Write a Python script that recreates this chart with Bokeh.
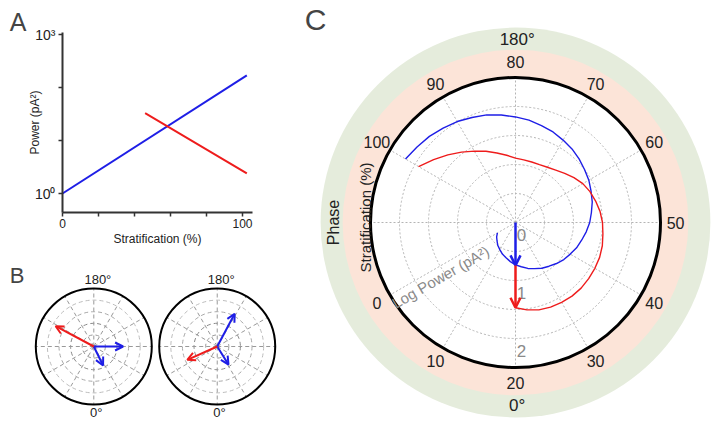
import numpy as np
from bokeh.plotting import figure
from bokeh.layouts import row, column
from bokeh.models import Range1d, FixedTicker, Label, Arrow, OpenHead
from bokeh.embed import file_html
from bokeh.resources import INLINE
from bokeh.core.properties import value

FONT = "Liberation Sans"
BLUE = "#1e1ee6"
RED = "#ee1c1c"

# ---------------- data ----------------
# Panel A: power vs stratification
a_blue_strat = [0, 102.4]
a_blue_power = [1.0, 170.0]
a_red_strat = [45.9, 102.4]
a_red_power = [33.0, 2.4]
a_xticks = [0, 20, 40, 60, 80, 100]
a_xlabels = ["0", "", "", "", "", "100"]
a_yticks = [1, 10, 100, 1000]
a_ylabels = ["10\u2070", "", "", "10\u00b3"]

# Panel B: phasor arrows (phase in degrees, 0 deg at bottom; relative magnitude)
b_left_phase = [90, 26, 242]
b_left_mag = [0.505, 0.365, 0.745]
b_left_color = [BLUE, BLUE, RED]
b_right_phase = [152, 32, 294]
b_right_mag = [0.64, 0.367, 0.565]
b_right_color = [BLUE, BLUE, RED]

# Panel C: log power vs stratification (polar)
c_blue_strat = [0, 2.5, 5, 7.5, 10, 12.5, 15, 17.5, 20, 22.5, 25, 27.5, 30, 32.5, 35, 37.5,
                40, 42.5, 45, 47.5, 50, 52.5, 55, 57.5, 60, 62.5, 65, 67.5, 70, 72.5, 75,
                77.5, 80, 82.5, 85, 87.5, 90, 92.5, 95, 97.5, 100]
c_blue_logp = [0.36, 0.41, 0.45, 0.50, 0.54, 0.59, 0.63, 0.68, 0.73, 0.77, 0.82, 0.86, 0.91,
               0.95, 1.00, 1.05, 1.09, 1.14, 1.18, 1.23, 1.28, 1.32, 1.37, 1.41, 1.46, 1.50,
               1.55, 1.60, 1.64, 1.69, 1.73, 1.78, 1.82, 1.87, 1.92, 1.96, 2.01, 2.05, 2.10,
               2.14, 2.19]
c_red_strat = [20, 22.5, 25, 27.5, 30, 32.5, 35, 37.5, 40, 42.5, 45, 47.5, 50, 52.5, 55, 57.5,
               60, 62.5, 65, 67.5, 70, 72.5, 75, 77.5, 80, 82.5, 85, 87.5, 90, 92.5, 95, 97.5, 100]
c_red_logp = [1.47, 1.52, 1.56, 1.58, 1.59, 1.60, 1.60, 1.59, 1.58, 1.57, 1.55, 1.52, 1.50,
              1.47, 1.43, 1.39, 1.34, 1.27, 1.20, 1.14, 1.10, 1.08, 1.08, 1.09, 1.11, 1.17,
              1.24, 1.33, 1.42, 1.53, 1.65, 1.78, 1.93]
c_arrow_strat = 20
c_blue_arrow = [0.0, 0.74]
c_red_arrow = [0.74, 1.47]
c_strat_ticks = [0, 10, 20, 30, 40, 50, 60, 70, 80, 90, 100]
c_logp_ticks = [0, 1, 2]
c_rmax = 2.5


def strat_to_theta(s):
    return np.deg2rad(210.0 + 3.0 * np.asarray(s, dtype=float))


def phase_to_theta(ph):
    return np.deg2rad(270.0 + np.asarray(ph, dtype=float))


def txt(p, x, y, t, size, color="#222222", angle=0.0, **kw):
    p.text(x=x, y=y, text=t, angle=angle, text_font=value(FONT), text_font_size=size,
           text_color=color, text_align="center", text_baseline="middle", **kw)


# ---------------- Panel A ----------------
pA = figure(width=298, height=253, output_backend="svg", toolbar_location=None,
            x_range=Range1d(-62 / 1.8, 236 / 1.8),
            y_range=Range1d(10 ** (-60 / 53), 10 ** (193 / 53)),
            y_axis_type="log", min_border=0)
pA.grid.visible = False
pA.outline_line_color = None
pA.xaxis.fixed_location = 10 ** -0.358
pA.yaxis.fixed_location = 0
pA.xaxis.bounds = (0, 105.7)
pA.yaxis.bounds = (10 ** -0.358, 10 ** 3.038)
pA.xaxis.ticker = FixedTicker(ticks=a_xticks)
pA.xaxis.major_label_overrides = dict(zip(a_xticks, a_xlabels))
pA.yaxis.ticker = FixedTicker(ticks=a_yticks)
pA.yaxis.major_label_overrides = dict(zip(a_yticks, a_ylabels))
pA.xaxis.axis_label = "Stratification (%)"
pA.yaxis.axis_label = "Power (pA\u00b2)"
for ax in (pA.xaxis[0], pA.yaxis[0]):
    ax.axis_line_width = 2
    ax.axis_line_color = "#333333"
    ax.major_tick_line_width = 1.5
    ax.major_tick_line_color = "#333333"
    ax.major_tick_out = 4
    ax.major_tick_in = 0
    ax.minor_tick_out = 0
    ax.minor_tick_in = 0
    ax.major_label_text_font = FONT
    ax.major_label_text_color = "#222222"
    ax.axis_label_text_font = FONT
    ax.axis_label_text_font_style = "normal"
    ax.axis_label_text_font_size = "12px"
    ax.axis_label_text_color = "#222222"
pA.xaxis.major_label_text_font_size = "12px"
pA.yaxis.major_label_text_font_size = "14px"
pA.xaxis.major_label_standoff = 3
pA.xaxis.axis_label_standoff = 0
pA.yaxis.major_label_standoff = 3
pA.yaxis.axis_label_standoff = -10

pA.line(a_blue_strat, a_blue_power, line_color=BLUE, line_width=2)
pA.line(a_red_strat, a_red_power, line_color=RED, line_width=2)
pA.add_layout(Label(x=-24.7, y=10 ** 3.245, text="A", text_font=FONT, text_font_size="25px",
                    text_align="center", text_baseline="middle"))

# ---------------- Panel B ----------------
pB = figure(width=298, height=172, output_backend="svg", toolbar_location=None,
            x_range=Range1d(-93.3 / 58, 204.7 / 58), y_range=Range1d(-79 / 58, 93 / 58),
            min_border=0, x_axis_location=None, y_axis_location=None)
pB.grid.visible = False
pB.outline_line_color = None
b_centers = [0.0, 2.128]
spoke_t = np.deg2rad(np.arange(0, 360, 30))
for cx in b_centers:
    for rr, col in zip([0.2, 0.4, 0.6, 0.8], ["#9a9a9a", "#8a8a8a", "#a8a8a8", "#bdbdbd"]):
        pB.circle(x=[cx], y=[0], radius=rr, fill_color=None, line_color=col,
                  line_width=1, line_dash="4 3")
    pB.multi_line(xs=[[cx, cx + np.cos(t)] for t in spoke_t],
                  ys=[[0, np.sin(t)] for t in spoke_t],
                  line_color="#999999", line_width=1, line_dash="4 3")
    pB.circle(x=[cx], y=[0], radius=1.0, fill_color=None, line_color="black", line_width=2)
    txt(pB, [cx + 0.07], [1.155], ["180\u00b0"], "13px")
    txt(pB, [cx + 0.04], [-1.133], ["0\u00b0"], "13px")

for cx, ph, mag, cols in [(b_centers[0], b_left_phase, b_left_mag, b_left_color),
                          (b_centers[1], b_right_phase, b_right_mag, b_right_color)]:
    th = phase_to_theta(ph)
    for i in range(len(ph)):
        pB.add_layout(Arrow(x_start=cx, y_start=0,
                            x_end=cx + mag[i] * np.cos(th[i]), y_end=mag[i] * np.sin(th[i]),
                            line_color=cols[i], line_width=2,
                            end=OpenHead(size=8, line_color=cols[i], line_width=2)))
pB.add_layout(Label(x=-1.324, y=1.216, text="B", text_font=FONT, text_font_size="22px",
                    text_align="center", text_baseline="middle"))

# ---------------- Panel C ----------------
pC = figure(width=416, height=425, output_backend="svg", toolbar_location=None,
            x_range=Range1d(-217 / 58, 199 / 58), y_range=Range1d(-203 / 58, 222 / 58),
            min_border=0, x_axis_location=None, y_axis_location=None)
pC.grid.visible = False
pC.outline_line_color = None

pC.circle(x=[0], y=[0], radius=3.36, fill_color="#e5ecdc", line_color=None)
pC.circle(x=[0], y=[0], radius=2.98, fill_color="#fce4d8", line_color=None)
pC.circle(x=[0], y=[0], radius=c_rmax, fill_color="white", line_color=None)
for rr in [0.5, 1.0, 1.5, 2.0]:
    pC.circle(x=[0], y=[0], radius=rr, fill_color=None, line_color="#b4b4b4",
              line_width=1, line_dash="2 2")
pC.multi_line(xs=[[0, c_rmax * np.cos(t)] for t in spoke_t],
              ys=[[0, c_rmax * np.sin(t)] for t in spoke_t],
              line_color="#b4b4b4", line_width=1, line_dash="2 2")
pC.circle(x=[0], y=[0], radius=c_rmax, fill_color=None, line_color="black", line_width=3)

tb = strat_to_theta(c_blue_strat)
pC.line(np.array(c_blue_logp) * np.cos(tb), np.array(c_blue_logp) * np.sin(tb),
        line_color=BLUE, line_width=1.4)
tr = strat_to_theta(c_red_strat)
pC.line(np.array(c_red_logp) * np.cos(tr), np.array(c_red_logp) * np.sin(tr),
        line_color=RED, line_width=1.4)

ta = strat_to_theta(c_arrow_strat)
for (r0, r1), col in [(c_blue_arrow, BLUE), (c_red_arrow, RED)]:
    pC.add_layout(Arrow(x_start=r0 * np.cos(ta), y_start=r0 * np.sin(ta),
                        x_end=r1 * np.cos(ta), y_end=r1 * np.sin(ta),
                        line_color=col, line_width=2.5,
                        end=OpenHead(size=10, line_color=col, line_width=2.5)))

# radial tick labels
pC.text(x=[0] * len(c_logp_ticks), y=[-v for v in c_logp_ticks],
        text=[str(v) for v in c_logp_ticks], x_offset=6, y_offset=12,
        text_font=value(FONT), text_font_size="17px", text_color="#8a8a8a",
        text_align="center", text_baseline="middle")
txt(pC, [-1.293], [-0.94], ["Log Power (pA\u00b2)"], "15px", color="#8a8a8a", angle=np.pi / 6)

# stratification ring labels
ts = strat_to_theta(c_strat_ticks)
txt(pC, 2.76 * np.cos(ts), 2.76 * np.sin(ts), [str(v) for v in c_strat_ticks], "16px")
txt(pC, [0.03, 0.03], [3.16, -3.16], ["180\u00b0", "0\u00b0"], "17px")
txt(pC, [-3.14], [0.0], ["Phase"], "16px", angle=np.pi / 2)
txt(pC, [-2.59], [0.086], ["Stratification (%)"], "15px", angle=np.pi / 2)
pC.add_layout(Label(x=-3.448, y=3.5, text="C", text_font=FONT, text_font_size="30px",
                    text_align="center", text_baseline="middle"))

layout = row(column(pA, pB), pC)
open("out.html", "w").write(file_html(layout, INLINE))
